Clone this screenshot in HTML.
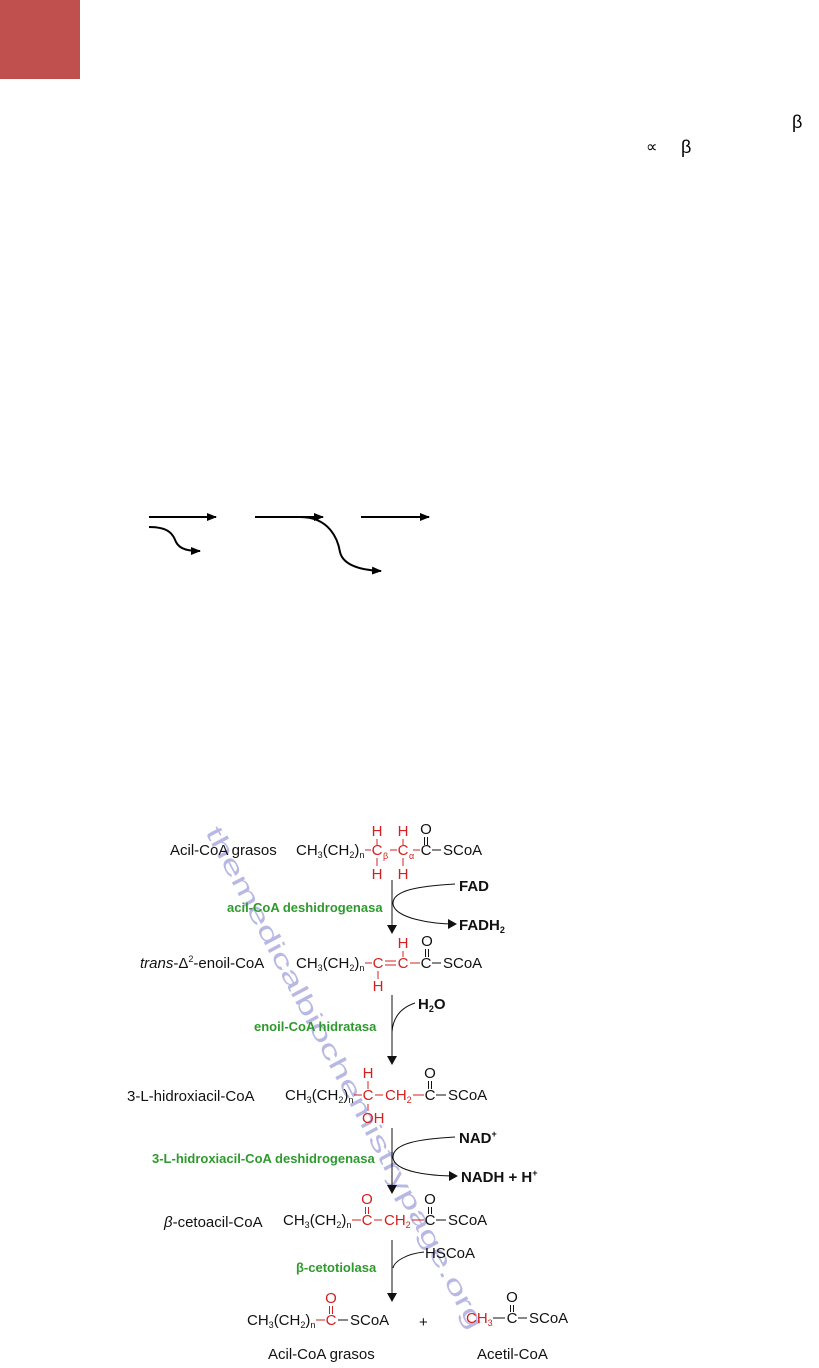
<!DOCTYPE html>
<html><head><meta charset="utf-8"><style>
html,body{margin:0;padding:0;background:#fff;width:819px;height:1368px;overflow:hidden}
svg{display:block}
text{font-family:"Liberation Sans",sans-serif}
.k{font-size:15px;fill:#111}
.r{fill:#d42020}
.g{font-size:13px;font-weight:bold;fill:#2e9a2e}
.b{font-size:15px;font-weight:bold;fill:#111}
.s{font-size:9px}
.m{text-anchor:middle}
</style></head><body>
<svg width="819" height="1368" viewBox="0 0 819 1368" xmlns="http://www.w3.org/2000/svg">
<defs><marker id="a" markerWidth="10" markerHeight="8" refX="9" refY="4" orient="auto" markerUnits="userSpaceOnUse"><path d="M0,0 L10,4 L0,8 Z" fill="#000"/></marker>
<marker id="m" markerWidth="9" markerHeight="10" refX="8" refY="5" orient="auto" markerUnits="userSpaceOnUse"><path d="M0,0 L9,5 L0,10 Z" fill="#111"/></marker></defs>
<rect x="0" y="0" width="80" height="79" fill="#c0504d"/>
<text x="792" y="128" font-family="Liberation Serif" font-size="18">β</text>
<text x="646" y="152" font-family="Liberation Serif" font-size="16">∝</text>
<text x="681" y="153" font-family="Liberation Serif" font-size="18">β</text>
<g stroke="#000" stroke-width="2" fill="none">
<line x1="149" y1="517" x2="216" y2="517" marker-end="url(#a)"/>
<path d="M149,527 C170,527 173,535 176,542 C180,550 190,551 200,551" marker-end="url(#a)"/>
<line x1="255" y1="517" x2="323" y2="517" marker-end="url(#a)"/>
<path d="M300,517 C330,517 338,540 340,552 C343,565 360,570 381,571" marker-end="url(#a)"/>
<line x1="361" y1="517" x2="429" y2="517" marker-end="url(#a)"/>
</g>
<text x="0" y="0" transform="translate(205,832) rotate(62)" font-size="25" fill="#b8b8e4" textLength="565" lengthAdjust="spacingAndGlyphs">themedicalbiochemistrypage.org</text>

<!-- row1 y855 -->
<text class="k" x="170" y="855">Acil-CoA grasos</text>
<text class="k" x="296" y="855">CH<tspan class="s" dy="3">3</tspan><tspan dy="-3">(CH</tspan><tspan class="s" dy="3">2</tspan><tspan dy="-3">)</tspan><tspan class="s" dy="3">n</tspan></text>
<g class="k r m"><text x="377" y="855">C</text><text x="403" y="855">C</text>
<text x="377" y="836">H</text><text x="403" y="836">H</text><text x="377" y="879">H</text><text x="403" y="879">H</text></g>
<text class="s r" x="383" y="859">β</text><text class="s r" x="409" y="859">α</text>
<text class="k m" x="426" y="855">C</text><text class="k" x="443" y="855">SCoA</text>
<text class="k m" x="426" y="834">O</text>
<g stroke="#d42020" stroke-width="1"><line x1="365" y1="850" x2="371" y2="850"/><line x1="390" y1="850" x2="397" y2="850"/><line x1="413" y1="850" x2="420" y2="850"/>
<line x1="377" y1="839" x2="377" y2="845"/><line x1="403" y1="839" x2="403" y2="845"/><line x1="377" y1="858" x2="377" y2="866"/><line x1="403" y1="858" x2="403" y2="866"/></g>
<g stroke="#111"><line x1="432" y1="850" x2="441" y2="850"/><line x1="424.5" y1="837" x2="424.5" y2="845"/><line x1="427.5" y1="837" x2="427.5" y2="845"/></g>
<g stroke="#111" stroke-width="1" fill="none">
<line x1="392" y1="880" x2="392" y2="933" marker-end="url(#m)"/>
<path d="M455,884 C420,886 392,890 393,904 C395,918 430,924 456,924" marker-end="url(#m)"/>
</g>
<text class="b" x="459" y="891">FAD</text>
<text class="b" x="459" y="930">FADH<tspan class="s" dy="3">2</tspan></text>
<text class="g" x="227" y="912">acil-CoA deshidrogenasa</text>

<!-- row2 y968 -->
<text class="k" x="140" y="968"><tspan font-style="italic">trans</tspan>-Δ<tspan class="s" dy="-6">2</tspan><tspan dy="6">-enoil-CoA</tspan></text>
<text class="k" x="296" y="968">CH<tspan class="s" dy="3">3</tspan><tspan dy="-3">(CH</tspan><tspan class="s" dy="3">2</tspan><tspan dy="-3">)</tspan><tspan class="s" dy="3">n</tspan></text>
<g class="k r m"><text x="378" y="968">C</text><text x="403" y="968">C</text><text x="403" y="948">H</text><text x="378" y="991">H</text></g>
<text class="k m" x="426" y="968">C</text><text class="k" x="443" y="968">SCoA</text><text class="k m" x="427" y="946">O</text>
<g stroke="#d42020"><line x1="365" y1="963" x2="372" y2="963"/><line x1="385" y1="961" x2="396" y2="961"/><line x1="385" y1="965" x2="396" y2="965"/><line x1="403" y1="951" x2="403" y2="957"/><line x1="378" y1="971" x2="378" y2="979"/><line x1="410" y1="963" x2="420" y2="963"/></g>
<g stroke="#111"><line x1="432" y1="963" x2="441" y2="963"/><line x1="425.5" y1="949" x2="425.5" y2="957"/><line x1="428.5" y1="949" x2="428.5" y2="957"/></g>
<g stroke="#111" stroke-width="1" fill="none">
<line x1="392" y1="995" x2="392" y2="1064" marker-end="url(#m)"/>
<path d="M415,1003 C400,1008 393,1018 392,1032"/>
</g>
<text class="b" x="418" y="1009">H<tspan class="s" dy="3">2</tspan><tspan dy="-3">O</tspan></text>
<text class="g" x="254" y="1031">enoil-CoA hidratasa</text>

<!-- row3 y1100 -->
<text class="k" x="127" y="1101">3-L-hidroxiacil-CoA</text>
<text class="k" x="285" y="1100">CH<tspan class="s" dy="3">3</tspan><tspan dy="-3">(CH</tspan><tspan class="s" dy="3">2</tspan><tspan dy="-3">)</tspan><tspan class="s" dy="3">n</tspan></text>
<g class="k r"><text class="m" x="368" y="1100">C</text><text x="385" y="1100">CH<tspan class="s" dy="3">2</tspan></text><text class="m" x="368" y="1078">H</text><text x="362" y="1123">OH</text></g>
<text class="k m" x="430" y="1100">C</text><text class="k" x="448" y="1100">SCoA</text><text class="k m" x="430" y="1078">O</text>
<g stroke="#d42020"><line x1="354" y1="1095" x2="362" y2="1095"/><line x1="375" y1="1095" x2="383" y2="1095"/><line x1="368" y1="1081" x2="368" y2="1089"/><line x1="368" y1="1104" x2="368" y2="1111"/><line x1="413" y1="1095" x2="424" y2="1095"/></g>
<g stroke="#111"><line x1="436" y1="1095" x2="446" y2="1095"/><line x1="428.5" y1="1081" x2="428.5" y2="1089"/><line x1="431.5" y1="1081" x2="431.5" y2="1089"/></g>
<g stroke="#111" stroke-width="1" fill="none">
<line x1="392" y1="1128" x2="392" y2="1193" marker-end="url(#m)"/>
<path d="M455,1137 C420,1139 392,1143 393,1158 C395,1172 430,1176 457,1176" marker-end="url(#m)"/>
</g>
<text class="b" x="459" y="1143">NAD<tspan class="s" dy="-6">+</tspan></text>
<text class="b" x="461" y="1182">NADH + H<tspan class="s" dy="-6">+</tspan></text>
<text class="g" x="152" y="1163">3-L-hidroxiacil-CoA deshidrogenasa</text>

<!-- row4 y1225 -->
<text class="k" x="164" y="1227"><tspan font-style="italic">β</tspan>-cetoacil-CoA</text>
<text class="k" x="283" y="1225">CH<tspan class="s" dy="3">3</tspan><tspan dy="-3">(CH</tspan><tspan class="s" dy="3">2</tspan><tspan dy="-3">)</tspan><tspan class="s" dy="3">n</tspan></text>
<g class="k r"><text class="m" x="367" y="1225">C</text><text x="384" y="1225">CH<tspan class="s" dy="3">2</tspan></text><text class="m" x="367" y="1204">O</text></g>
<text class="k m" x="430" y="1225">C</text><text class="k" x="448" y="1225">SCoA</text><text class="k m" x="430" y="1204">O</text>
<g stroke="#d42020"><line x1="352" y1="1220" x2="361" y2="1220"/><line x1="374" y1="1220" x2="382" y2="1220"/><line x1="365.5" y1="1207" x2="365.5" y2="1214"/><line x1="368.5" y1="1207" x2="368.5" y2="1214"/><line x1="412" y1="1220" x2="424" y2="1220"/></g>
<g stroke="#111"><line x1="436" y1="1220" x2="446" y2="1220"/><line x1="428.5" y1="1207" x2="428.5" y2="1214"/><line x1="431.5" y1="1207" x2="431.5" y2="1214"/></g>
<g stroke="#111" stroke-width="1" fill="none">
<line x1="392" y1="1240" x2="392" y2="1301" marker-end="url(#m)"/>
<path d="M424,1252 C405,1254 394,1262 393,1268"/>
</g>
<text class="k" x="425" y="1258">HSCoA</text>
<text class="g" x="296" y="1272">β-cetotiolasa</text>

<!-- products -->
<text class="k" x="247" y="1325">CH<tspan class="s" dy="3">3</tspan><tspan dy="-3">(CH</tspan><tspan class="s" dy="3">2</tspan><tspan dy="-3">)</tspan><tspan class="s" dy="3">n</tspan></text>
<text class="k r m" x="331" y="1325">C</text><text class="k r m" x="331" y="1303">O</text>
<text class="k" x="350" y="1325">SCoA</text>
<g stroke="#d42020"><line x1="316" y1="1320" x2="325" y2="1320"/><line x1="329.5" y1="1306" x2="329.5" y2="1314"/><line x1="332.5" y1="1306" x2="332.5" y2="1314"/></g>
<g stroke="#111"><line x1="338" y1="1320" x2="348" y2="1320"/></g>
<text class="k" x="419" y="1327">+</text>
<text class="k r" x="466" y="1323">CH<tspan class="s" dy="3">3</tspan></text>
<text class="k m" x="512" y="1323">C</text><text class="k m" x="512" y="1302">O</text><text class="k" x="529" y="1323">SCoA</text>
<g stroke="#111"><line x1="493" y1="1318" x2="505" y2="1318"/><line x1="518" y1="1318" x2="527" y2="1318"/><line x1="510.5" y1="1305" x2="510.5" y2="1312"/><line x1="513.5" y1="1305" x2="513.5" y2="1312"/></g>
<text class="k" x="268" y="1359">Acil-CoA grasos</text>
<text class="k" x="477" y="1359">Acetil-CoA</text>
</svg>
</body></html>
